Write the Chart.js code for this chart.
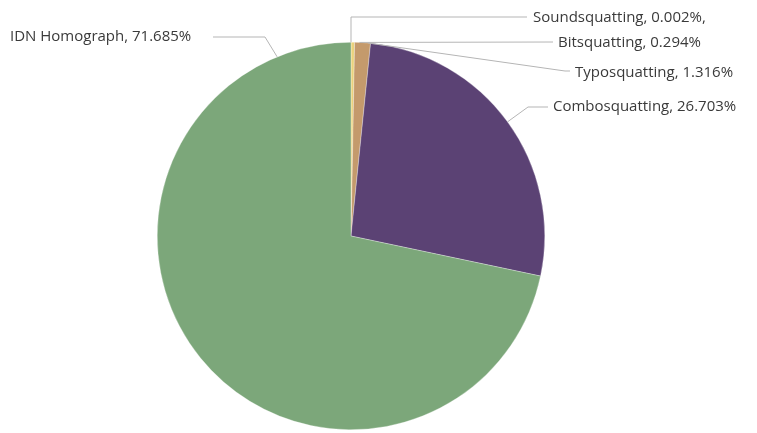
<!DOCTYPE html>
<html lang="en">
<head>
  <meta charset="UTF-8">
  <title>Squatting types</title>
  <script src="https://cdn.jsdelivr.net/npm/chart.js@4"></script>
  <style>
    * { margin: 0; padding: 0; }
    body { background: #fff; }
    .chartBox { width: 757px; height: 433px; }
  </style>
</head>
<body>
  <div class="chartBox">
    <canvas id="myChart"></canvas>
  </div>
  <script>
    const labels = ['Soundsquatting', 'Bitsquatting', 'Typosquatting', 'Combosquatting', 'IDN Homograph'];
    const shares = [0.002, 0.294, 1.316, 26.703, 71.685];
    const colors = ['#e3b35c', '#ead27c', '#c49a6c', '#5b4274', '#7ca77a'];

    // where each leader line touches the pie (degrees clockwise from top) and where the text sits
    const callouts = [
      { angle: 0,     path: [[351, 17], [527, 17]],  text: [533, 18], suffix: ',' },
      { angle: 2.5,   path: [[553, 42]],             text: [558, 43] },
      { angle: 5,     path: [[565, 71], [570, 71]],  text: [575, 73] },
      { angle: 53.9,  path: [[528, 107], [548, 107]], text: [553, 107] },
      { angle: 337.6, path: [[265, 37], [213, 37]],  text: [10, 37] }
    ];

    const calloutPlugin = {
      id: 'callouts',
      afterDraw(chart) {
        const c = chart.ctx;
        const arc = chart.getDatasetMeta(0).data[0];
        c.save();
        c.strokeStyle = '#b5b5b5';
        c.lineWidth = 1;
        c.font = '15px "Open Sans", sans-serif';
        c.fillStyle = '#3a3a3a';
        c.textBaseline = 'middle';
        callouts.forEach((co, i) => {
          const a = co.angle * Math.PI / 180;
          const x0 = arc.x + arc.outerRadius * Math.sin(a);
          const y0 = arc.y - arc.outerRadius * Math.cos(a);
          c.beginPath();
          c.moveTo(x0, y0);
          co.path.forEach(p => c.lineTo(p[0], p[1]));
          c.stroke();
          const txt = `${labels[i]}, ${shares[i].toFixed(3)}%${co.suffix || ''}`;
          c.fillText(txt, co.text[0], co.text[1]);
        });
        c.restore();
      }
    };

    const data = {
      labels: labels,
      datasets: [{
        data: shares,
        backgroundColor: colors,
        borderColor: 'rgba(255,255,255,0.6)',
        borderWidth: 0.5
      }]
    };

    const config = {
      type: 'pie',
      data: data,
      options: {
        responsive: true,
        maintainAspectRatio: false,
        animation: false,
        layout: { padding: { top: 42, bottom: 3, left: 157, right: 212 } },
        plugins: {
          legend: { display: false },
          tooltip: { enabled: false }
        }
      },
      plugins: [calloutPlugin]
    };

    const myChart = new Chart(document.getElementById('myChart'), config);
  </script>
</body>
</html>
